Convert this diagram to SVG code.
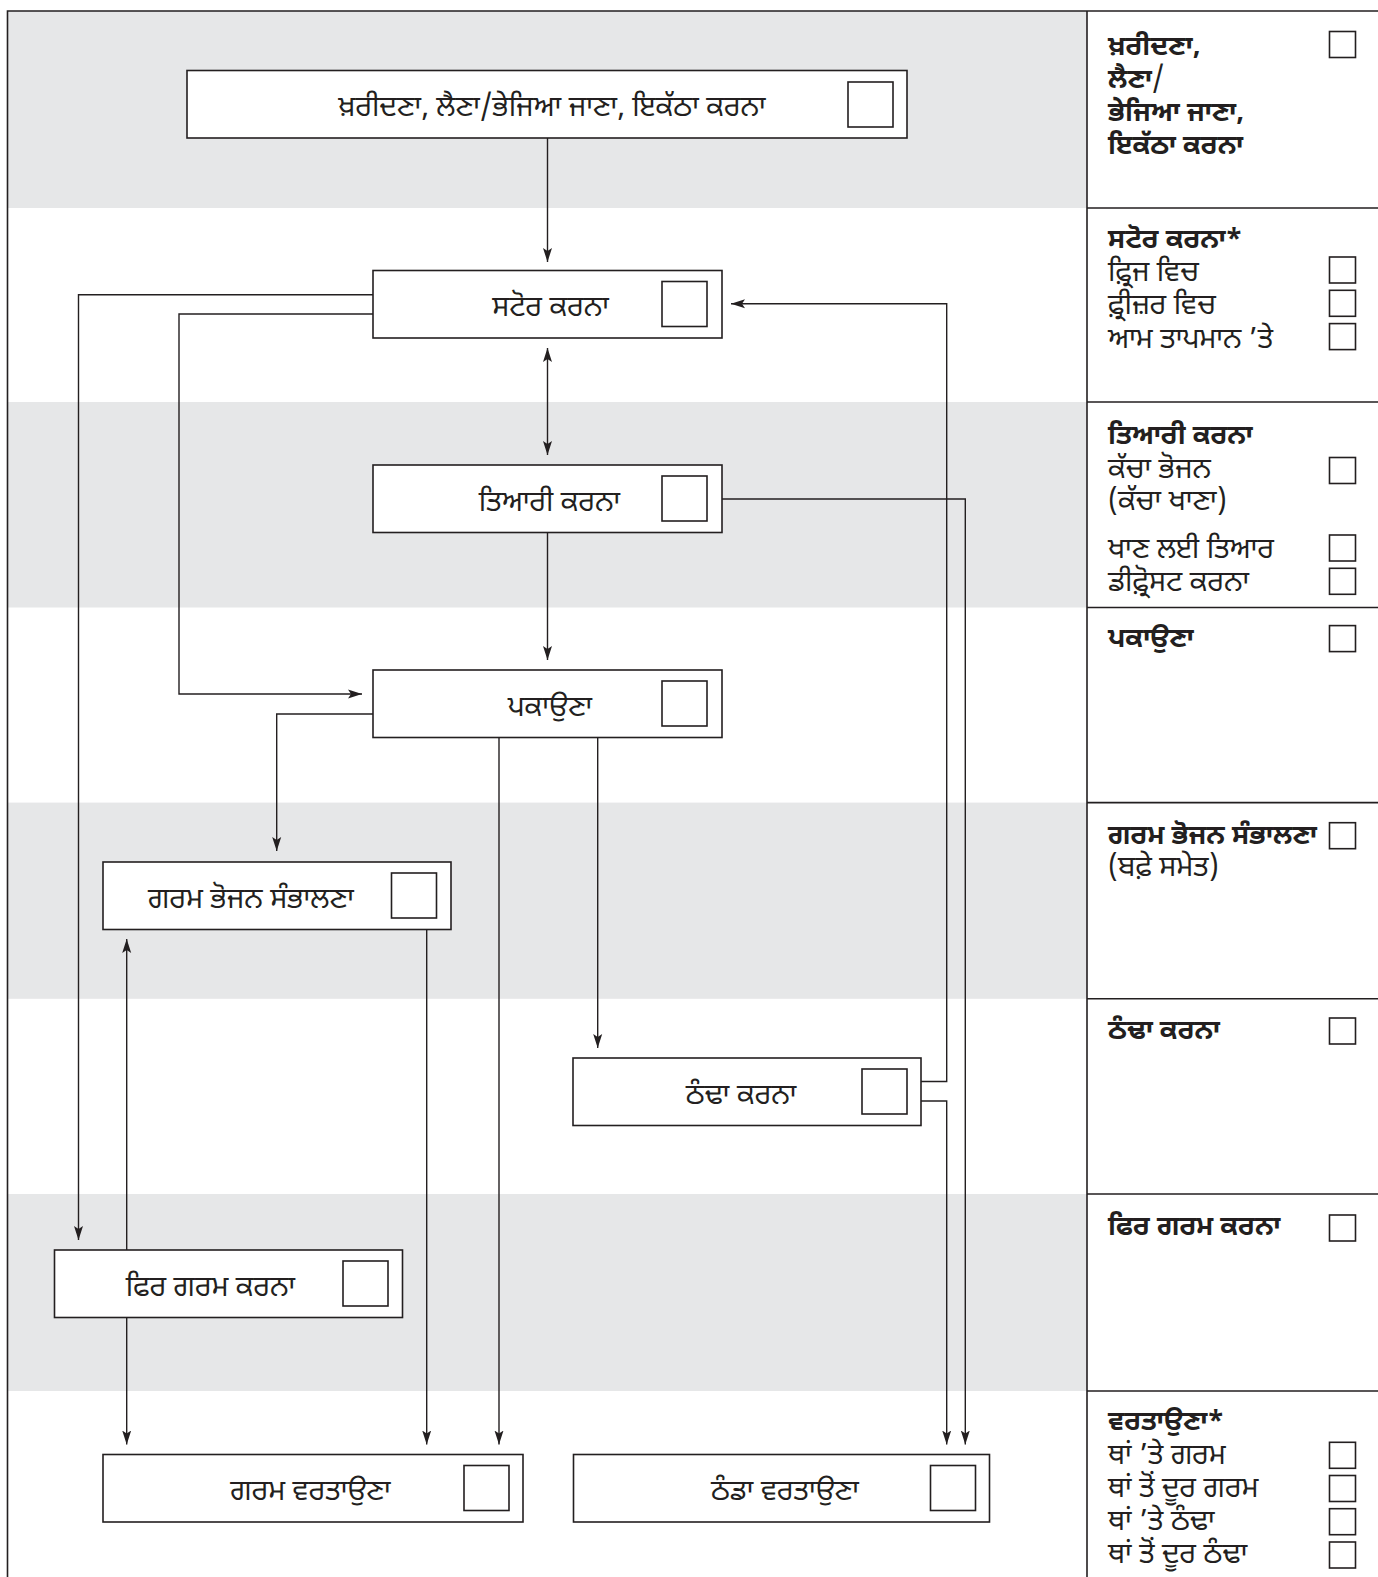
<svg xmlns="http://www.w3.org/2000/svg" width="1378" height="1577" viewBox="0 0 1378 1577">
<defs>
<style>
.band{fill:#e6e7e8}
.frame{fill:none;stroke:#231f20;stroke-width:1.6}
.box{fill:#ffffff;stroke:#231f20;stroke-width:1.6}
.cb{fill:#ffffff;stroke:#231f20;stroke-width:1.6}
.con{fill:none;stroke:#231f20;stroke-width:1.4}
.lbl{font-family:"Noto Sans Gurmukhi","Lohit Gurmukhi","Noto Sans","DejaVu Sans",sans-serif;font-size:28.5px;fill:#231f20;text-anchor:middle}
.rt{font-family:"Noto Sans Gurmukhi","Lohit Gurmukhi","Noto Sans","DejaVu Sans",sans-serif;font-size:28.5px;fill:#231f20}
.rh{font-weight:bold;font-size:27px}
</style>
<marker id="ah" viewBox="0 0 14 10" refX="14" refY="5" markerWidth="14" markerHeight="10" markerUnits="userSpaceOnUse" orient="auto-start-reverse">
<path d="M14,5 L0,0.5 L3,5 L0,9.5 Z" fill="#231f20"/>
</marker>
</defs>
<rect width="1378" height="1577" fill="#ffffff"/>
<g id="bands">
<rect class="band" x="7.5" y="11" width="1079.5" height="197"/>
<rect class="band" x="7.5" y="402" width="1079.5" height="205.5"/>
<rect class="band" x="7.5" y="802.6" width="1079.5" height="196.2"/>
<rect class="band" x="7.5" y="1194" width="1079.5" height="197"/>
</g>
<g id="frame">
<path class="frame" d="M7.5,1577 V11 H1378"/>
<path class="frame" d="M1087,11 V1577"/>
<path class="frame" d="M1087,208 H1378 M1087,402 H1378 M1087,607.5 H1378 M1087,802.6 H1378 M1087,998.8 H1378 M1087,1194 H1378 M1087,1391 H1378"/>
</g>
<g id="connectors">
<path class="con" d="M547.5,138 V262" marker-end="url(#ah)"/>
<path class="con" d="M547.5,348 V455" marker-start="url(#ah)" marker-end="url(#ah)"/>
<path class="con" d="M547.5,532.5 V660" marker-end="url(#ah)"/>
<path class="con" d="M373,294.7 H78.5 V1240" marker-end="url(#ah)"/>
<path class="con" d="M373,314 H179 V694 H362" marker-end="url(#ah)"/>
<path class="con" d="M373,714 H276.7 V851" marker-end="url(#ah)"/>
<path class="con" d="M499,737.7 V1444.5" marker-end="url(#ah)"/>
<path class="con" d="M597.7,737.7 V1048" marker-end="url(#ah)"/>
<path class="con" d="M722,499 H965.3 V1444.5" marker-end="url(#ah)"/>
<path class="con" d="M921,1081.5 H946.7 V303.7 H731" marker-end="url(#ah)"/>
<path class="con" d="M921,1101 H946.7 V1444.5" marker-end="url(#ah)"/>
<path class="con" d="M426.7,929 V1444.5" marker-end="url(#ah)"/>
<path class="con" d="M126.7,1250 V939" marker-end="url(#ah)"/>
<path class="con" d="M126.7,1316.6 V1444.5" marker-end="url(#ah)"/>
</g>
<g id="node-buy">
<rect class="box" x="187" y="70.5" width="720" height="67.5"/>
<rect class="cb" x="848" y="82" width="45" height="45"/>
<text class="lbl" x="552" y="116">ਖ਼ਰੀਦਣਾ, ਲੈਣਾ/ਭੇਜਿਆ ਜਾਣਾ, ਇਕੱਠਾ ਕਰਨਾ</text>
</g>
<g id="node-store">
<rect class="box" x="373" y="270.5" width="349" height="67.5"/>
<rect class="cb" x="662" y="281.5" width="45" height="45"/>
<text class="lbl" x="550.5" y="316">ਸਟੋਰ ਕਰਨਾ</text>
</g>
<g id="node-prepare">
<rect class="box" x="373" y="465" width="349" height="67.5"/>
<rect class="cb" x="662" y="476" width="45" height="45"/>
<text class="lbl" x="549.5" y="510.5">ਤਿਆਰੀ ਕਰਨਾ</text>
</g>
<g id="node-cook">
<rect class="box" x="373" y="670" width="349" height="67.5"/>
<rect class="cb" x="662" y="681" width="45" height="45"/>
<text class="lbl" x="550" y="715.5">ਪਕਾਉਣਾ</text>
</g>
<g id="node-hothold">
<rect class="box" x="103" y="862" width="348" height="67.5"/>
<rect class="cb" x="391.5" y="873" width="45" height="45"/>
<text class="lbl" x="251" y="907.5">ਗਰਮ ਭੋਜਨ ਸੰਭਾਲਣਾ</text>
</g>
<g id="node-cool">
<rect class="box" x="573" y="1058" width="348" height="67.5"/>
<rect class="cb" x="862" y="1069" width="45" height="45"/>
<text class="lbl" x="741" y="1103.5">ਠੰਢਾ ਕਰਨਾ</text>
</g>
<g id="node-reheat">
<rect class="box" x="54.5" y="1250" width="348" height="67.5"/>
<rect class="cb" x="343" y="1261" width="45" height="45"/>
<text class="lbl" x="210.5" y="1295.5">ਫਿਰ ਗਰਮ ਕਰਨਾ</text>
</g>
<g id="node-servehot">
<rect class="box" x="103" y="1454.5" width="420" height="67.5"/>
<rect class="cb" x="464" y="1465.5" width="45" height="45"/>
<text class="lbl" x="310.5" y="1500">ਗਰਮ ਵਰਤਾਉਣਾ</text>
</g>
<g id="node-servecold">
<rect class="box" x="573.5" y="1454.5" width="416" height="67.5"/>
<rect class="cb" x="930.5" y="1465.5" width="45" height="45"/>
<text class="lbl" x="785" y="1500">ਠੰਡਾ ਵਰਤਾਉਣਾ</text>
</g>
<g id="checklist">
<text class="rt rh" x="1108" y="54.5">ਖ਼ਰੀਦਣਾ,</text>
<text class="rt" x="1108" y="87.5"><tspan class="rh">ਲੈਣਾ</tspan>/</text>
<text class="rt rh" x="1108" y="120.5">ਭੇਜਿਆ ਜਾਣਾ,</text>
<text class="rt rh" x="1108" y="153.5">ਇਕੱਠਾ ਕਰਨਾ</text>
<rect class="cb" x="1329.5" y="31.5" width="26" height="26"/>

<text class="rt rh" x="1108" y="247.5">ਸਟੋਰ ਕਰਨਾ*</text>
<text class="rt" x="1108" y="280.8">ਫ਼੍ਰਿਜ ਵਿਚ</text>
<text class="rt" x="1108" y="314.2">ਫ਼੍ਰੀਜ਼ਰ ਵਿਚ</text>
<text class="rt" x="1108" y="347.5">ਆਮ ਤਾਪਮਾਨ ’ਤੇ</text>
<rect class="cb" x="1329.5" y="257" width="26" height="26"/>
<rect class="cb" x="1329.5" y="290.3" width="26" height="26"/>
<rect class="cb" x="1329.5" y="323.6" width="26" height="26"/>

<text class="rt rh" x="1108" y="443.5">ਤਿਆਰੀ ਕਰਨਾ</text>
<text class="rt" x="1108" y="478">ਕੱਚਾ ਭੋਜਨ</text>
<text class="rt" x="1108" y="510">(ਕੱਚਾ ਖਾਣਾ)</text>
<text class="rt" x="1108" y="557.5">ਖਾਣ ਲਈ ਤਿਆਰ</text>
<text class="rt" x="1108" y="590.5">ਡੀਫ਼੍ਰੋਸਟ ਕਰਨਾ</text>
<rect class="cb" x="1329.5" y="457.5" width="26" height="26"/>
<rect class="cb" x="1329.5" y="535" width="26" height="26"/>
<rect class="cb" x="1329.5" y="568.3" width="26" height="26"/>

<text class="rt rh" x="1108" y="646.8">ਪਕਾਉਣਾ</text>
<rect class="cb" x="1329.5" y="625.6" width="26" height="26"/>

<text class="rt rh" x="1108" y="843.9">ਗਰਮ ਭੋਜਨ ਸੰਭਾਲਣਾ</text>
<text class="rt" x="1108" y="876.1">(ਬਫ਼ੇ ਸਮੇਤ)</text>
<rect class="cb" x="1329.5" y="822.7" width="26" height="26"/>

<text class="rt rh" x="1108" y="1039">ਠੰਢਾ ਕਰਨਾ</text>
<rect class="cb" x="1329.5" y="1018" width="26" height="26"/>

<text class="rt rh" x="1108" y="1235.2">ਫਿਰ ਗਰਮ ਕਰਨਾ</text>
<rect class="cb" x="1329.5" y="1215" width="26" height="26"/>

<text class="rt rh" x="1108" y="1430.3">ਵਰਤਾਉਣਾ*</text>
<text class="rt" x="1108" y="1463.5">ਥਾਂ ’ਤੇ ਗਰਮ</text>
<text class="rt" x="1108" y="1496.7">ਥਾਂ ਤੋਂ ਦੂਰ ਗਰਮ</text>
<text class="rt" x="1108" y="1529.9">ਥਾਂ ’ਤੇ ਠੰਢਾ</text>
<text class="rt" x="1108" y="1563.1">ਥਾਂ ਤੋਂ ਦੂਰ ਠੰਢਾ</text>
<rect class="cb" x="1329.5" y="1442.3" width="26" height="26"/>
<rect class="cb" x="1329.5" y="1475.5" width="26" height="26"/>
<rect class="cb" x="1329.5" y="1508.7" width="26" height="26"/>
<rect class="cb" x="1329.5" y="1542" width="26" height="26"/>
</g>
</svg>
